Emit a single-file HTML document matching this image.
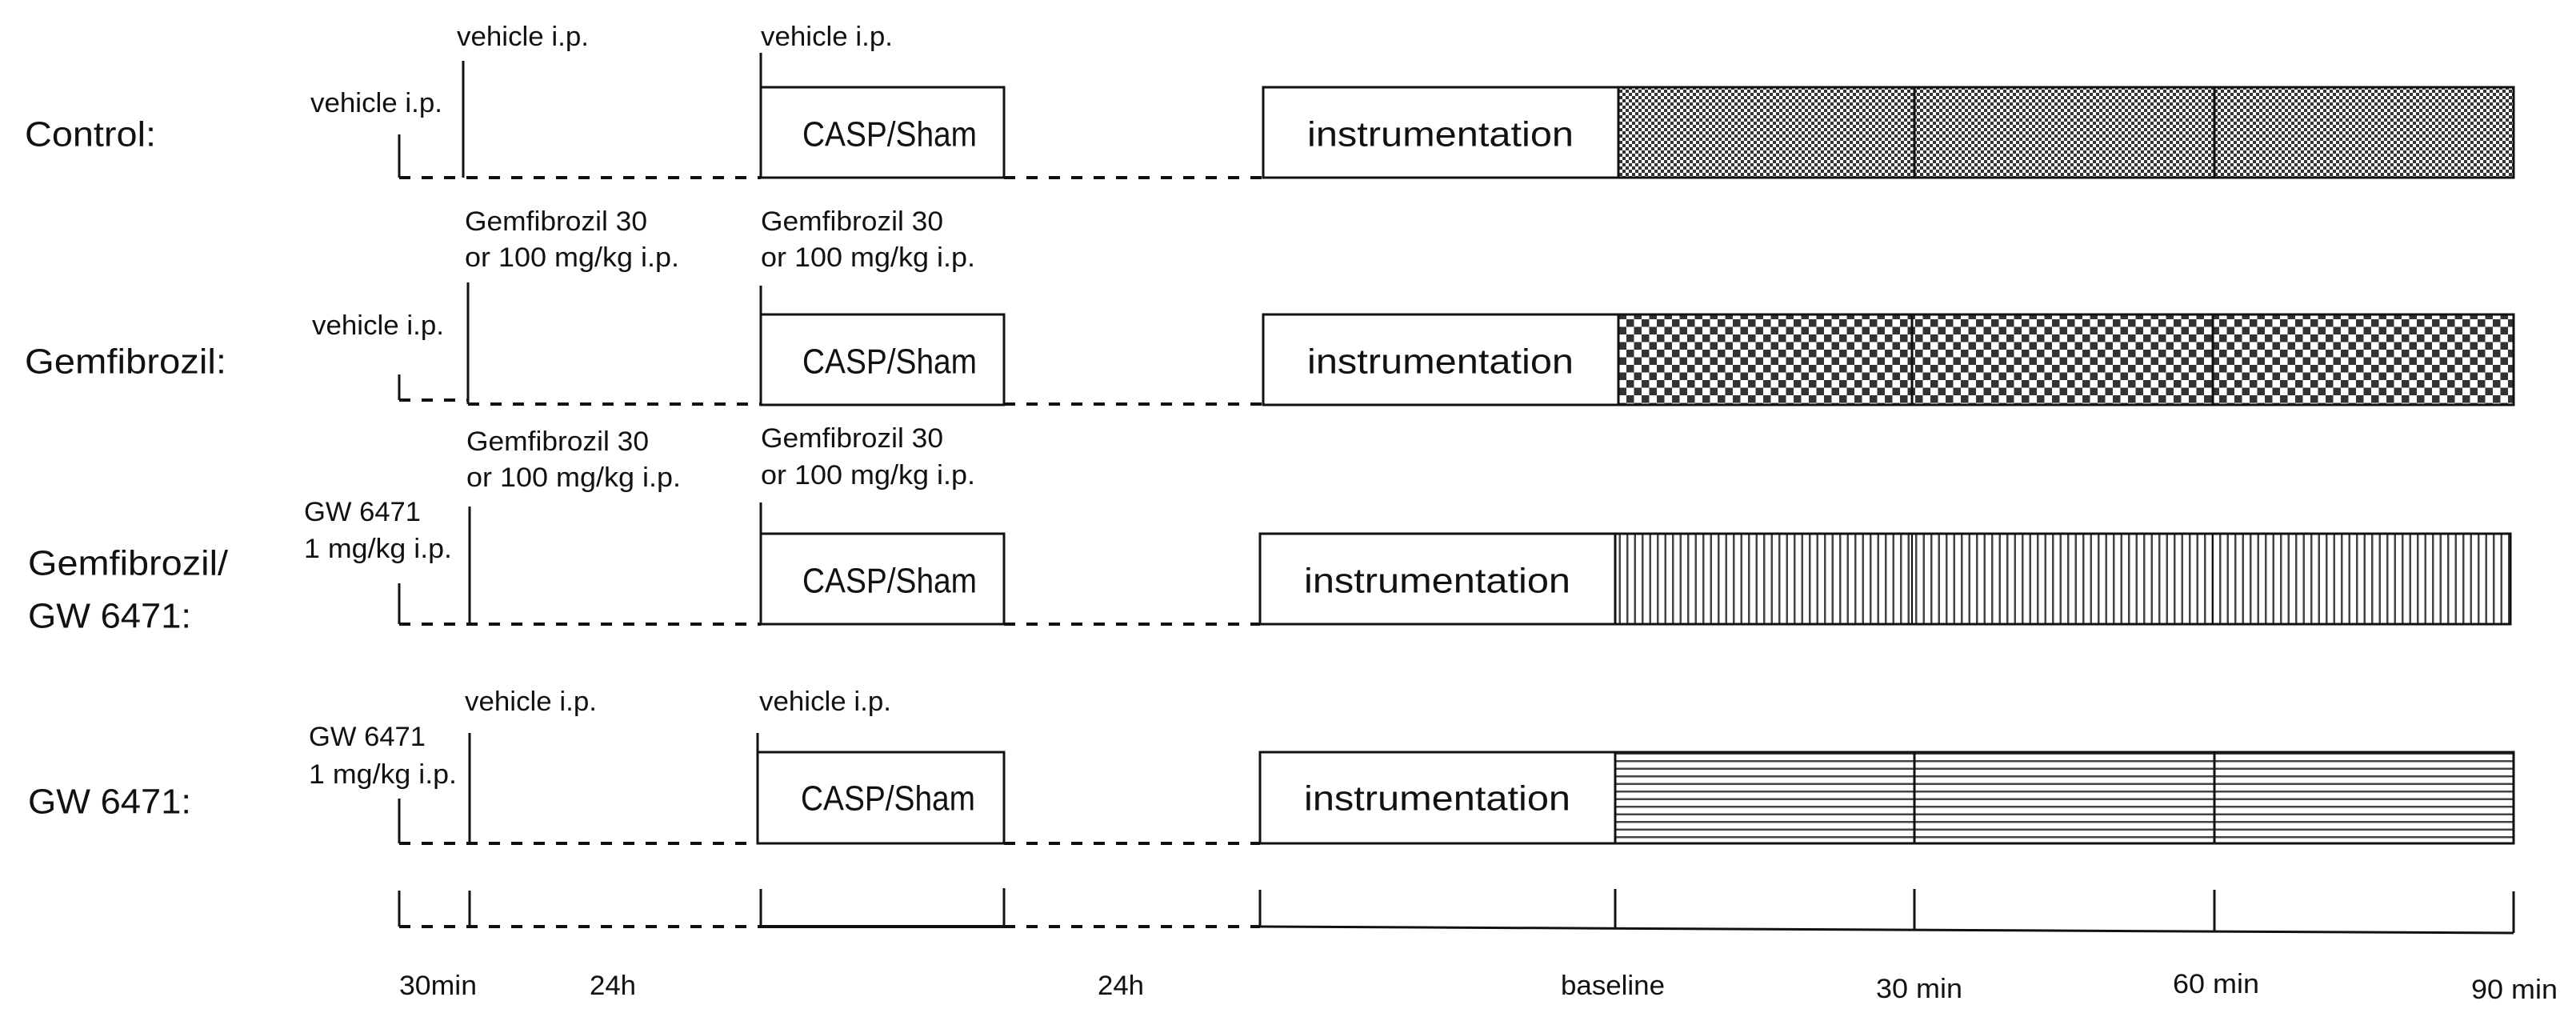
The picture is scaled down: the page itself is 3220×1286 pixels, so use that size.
<!DOCTYPE html>
<html><head><meta charset="utf-8"><style>
html,body{margin:0;padding:0;background:#fff;}
svg{display:block;}
text{font-family:"Liberation Sans",sans-serif;fill:#111;}
</style></head><body>
<svg width="3220" height="1286" viewBox="0 0 3220 1286" xmlns="http://www.w3.org/2000/svg">
<defs>
<pattern id="p1" width="8" height="8" patternUnits="userSpaceOnUse">
<rect width="8" height="8" fill="#fff"/><rect width="4" height="4" fill="#333"/><rect x="4" y="4" width="4" height="4" fill="#333"/>
</pattern>
<pattern id="p2" width="19" height="19" patternUnits="userSpaceOnUse">
<rect width="19" height="19" fill="#fff"/><rect width="9.5" height="9.5" fill="#333"/><rect x="9.5" y="9.5" width="9.5" height="9.5" fill="#333"/>
</pattern>
<pattern id="p3" width="9.5" height="10" patternUnits="userSpaceOnUse">
<rect width="9.5" height="10" fill="#fff"/><rect x="0" width="2.5" height="10" fill="#444"/>
</pattern>
<pattern id="p4" width="10" height="9.5" patternUnits="userSpaceOnUse">
<rect width="10" height="9.5" fill="#fff"/><rect y="0" width="10" height="2.5" fill="#444"/>
</pattern>
</defs>
<g stroke="#111" stroke-width="3" fill="none">
<line x1="499" y1="168" x2="499" y2="222"/>
<line x1="579" y1="76" x2="579" y2="222"/>
<line x1="951" y1="66" x2="951" y2="109"/>
<line x1="499" y1="222" x2="951" y2="222" stroke-dasharray="14 14" stroke-width="4"/>
<line x1="1255" y1="222" x2="1579" y2="222" stroke-dasharray="14 14" stroke-width="4"/>
<rect x="951" y="109" width="304" height="113" fill="#fff"/>
<rect x="2023" y="109" width="1119" height="113" fill="url(#p1)"/>
<rect x="1579" y="109" width="1563" height="113"/>
<line x1="2023" y1="109" x2="2023" y2="222"/>
<line x1="2393" y1="109" x2="2393" y2="222"/>
<line x1="2768" y1="109" x2="2768" y2="222"/>

<line x1="499" y1="468" x2="499" y2="500"/>
<line x1="499" y1="500" x2="585" y2="500" stroke-dasharray="14 14" stroke-width="4"/>
<line x1="585" y1="353" x2="585" y2="505"/>
<line x1="951" y1="357" x2="951" y2="393"/>
<line x1="585" y1="505" x2="951" y2="505" stroke-dasharray="14 14" stroke-width="4"/>
<line x1="1255" y1="505" x2="1579" y2="505" stroke-dasharray="14 14" stroke-width="4"/>
<rect x="951" y="393" width="304" height="113" fill="#fff"/>
<rect x="2023" y="393" width="1119" height="113" fill="url(#p2)"/>
<rect x="1579" y="393" width="1563" height="113"/>
<line x1="2023" y1="393" x2="2023" y2="506"/>
<line x1="2390" y1="393" x2="2390" y2="506"/>
<line x1="2766" y1="393" x2="2766" y2="506"/>

<line x1="499" y1="729" x2="499" y2="780"/>
<line x1="587" y1="633" x2="587" y2="780"/>
<line x1="951" y1="628" x2="951" y2="667"/>
<line x1="499" y1="780" x2="951" y2="780" stroke-dasharray="14 14" stroke-width="4"/>
<line x1="1255" y1="780" x2="1575" y2="780" stroke-dasharray="14 14" stroke-width="4"/>
<rect x="951" y="667" width="304" height="113" fill="#fff"/>
<rect x="2019" y="667" width="1119" height="113" fill="url(#p3)"/>
<rect x="1575" y="667" width="1563" height="113"/>
<line x1="2019" y1="667" x2="2019" y2="780"/>

<line x1="499" y1="998" x2="499" y2="1054"/>
<line x1="587" y1="916" x2="587" y2="1054"/>
<line x1="947" y1="916" x2="947" y2="940"/>
<line x1="499" y1="1054" x2="947" y2="1054" stroke-dasharray="14 14" stroke-width="4"/>
<line x1="1255" y1="1054" x2="1575" y2="1054" stroke-dasharray="14 14" stroke-width="4"/>
<rect x="947" y="940" width="308" height="114" fill="#fff"/>
<rect x="2019" y="940" width="1123" height="114" fill="url(#p4)"/>
<rect x="1575" y="940" width="1567" height="114"/>
<line x1="2019" y1="940" x2="2019" y2="1054"/>
<line x1="2393" y1="940" x2="2393" y2="1054"/>
<line x1="2768" y1="940" x2="2768" y2="1054"/>

<line x1="499" y1="1113" x2="499" y2="1158"/>
<line x1="587" y1="1113" x2="587" y2="1158"/>
<line x1="951" y1="1111" x2="951" y2="1158"/>
<line x1="1255" y1="1110" x2="1255" y2="1158"/>
<line x1="1575" y1="1112" x2="1575" y2="1158"/>
<line x1="2019" y1="1111" x2="2019" y2="1160"/>
<line x1="2393" y1="1111" x2="2393" y2="1162"/>
<line x1="2768" y1="1112" x2="2768" y2="1164"/>
<line x1="3142" y1="1114" x2="3142" y2="1166"/>
<line x1="499" y1="1158" x2="951" y2="1158" stroke-dasharray="14 14" stroke-width="4"/>
<line x1="951" y1="1158" x2="1255" y2="1158" stroke-width="4"/>
<line x1="1255" y1="1158" x2="1575" y2="1158" stroke-dasharray="14 14" stroke-width="4"/>
<line x1="1575" y1="1158" x2="3142" y2="1166" stroke-width="3"/>
</g>
<g stroke="#111" stroke-width="2" fill="none">
<line x1="2390" y1="667" x2="2390" y2="780"/>
<line x1="2766" y1="667" x2="2766" y2="780"/>
</g>
<g font-size="34" dominant-baseline="central">
<text x="31" y="168" font-size="44" textLength="164" lengthAdjust="spacingAndGlyphs">Control:</text>
<text x="31" y="452" font-size="44" textLength="252" lengthAdjust="spacingAndGlyphs">Gemfibrozil:</text>
<text x="35" y="704" font-size="44" textLength="250" lengthAdjust="spacingAndGlyphs">Gemfibrozil/</text>
<text x="35" y="770" font-size="44" textLength="204" lengthAdjust="spacingAndGlyphs">GW 6471:</text>
<text x="35" y="1002" font-size="44" textLength="204" lengthAdjust="spacingAndGlyphs">GW 6471:</text>

<text x="571" y="46" textLength="165" lengthAdjust="spacingAndGlyphs">vehicle i.p.</text>
<text x="951" y="46" textLength="165" lengthAdjust="spacingAndGlyphs">vehicle i.p.</text>
<text x="388" y="129" textLength="165" lengthAdjust="spacingAndGlyphs">vehicle i.p.</text>

<text x="581" y="277" textLength="228" lengthAdjust="spacingAndGlyphs">Gemfibrozil 30</text>
<text x="581" y="322" textLength="268" lengthAdjust="spacingAndGlyphs">or 100 mg/kg i.p.</text>
<text x="951" y="277" textLength="228" lengthAdjust="spacingAndGlyphs">Gemfibrozil 30</text>
<text x="951" y="322" textLength="268" lengthAdjust="spacingAndGlyphs">or 100 mg/kg i.p.</text>
<text x="390" y="407" textLength="165" lengthAdjust="spacingAndGlyphs">vehicle i.p.</text>

<text x="583" y="552" textLength="228" lengthAdjust="spacingAndGlyphs">Gemfibrozil 30</text>
<text x="583" y="597" textLength="268" lengthAdjust="spacingAndGlyphs">or 100 mg/kg i.p.</text>
<text x="951" y="548" textLength="228" lengthAdjust="spacingAndGlyphs">Gemfibrozil 30</text>
<text x="951" y="594" textLength="268" lengthAdjust="spacingAndGlyphs">or 100 mg/kg i.p.</text>
<text x="380" y="640" textLength="146" lengthAdjust="spacingAndGlyphs">GW 6471</text>
<text x="380" y="686" textLength="185" lengthAdjust="spacingAndGlyphs">1 mg/kg i.p.</text>

<text x="581" y="877" textLength="165" lengthAdjust="spacingAndGlyphs">vehicle i.p.</text>
<text x="949" y="877" textLength="165" lengthAdjust="spacingAndGlyphs">vehicle i.p.</text>
<text x="386" y="921" textLength="146" lengthAdjust="spacingAndGlyphs">GW 6471</text>
<text x="386" y="968" textLength="185" lengthAdjust="spacingAndGlyphs">1 mg/kg i.p.</text>

<text x="1003" y="168" font-size="44" textLength="218" lengthAdjust="spacingAndGlyphs">CASP/Sham</text>
<text x="1003" y="452" font-size="44" textLength="218" lengthAdjust="spacingAndGlyphs">CASP/Sham</text>
<text x="1003" y="726" font-size="44" textLength="218" lengthAdjust="spacingAndGlyphs">CASP/Sham</text>
<text x="1001" y="998" font-size="44" textLength="218" lengthAdjust="spacingAndGlyphs">CASP/Sham</text>

<text x="1634" y="168" font-size="44" textLength="333" lengthAdjust="spacingAndGlyphs">instrumentation</text>
<text x="1634" y="452" font-size="44" textLength="333" lengthAdjust="spacingAndGlyphs">instrumentation</text>
<text x="1630" y="726" font-size="44" textLength="333" lengthAdjust="spacingAndGlyphs">instrumentation</text>
<text x="1630" y="998" font-size="44" textLength="333" lengthAdjust="spacingAndGlyphs">instrumentation</text>

<text x="499" y="1232" textLength="97" lengthAdjust="spacingAndGlyphs">30min</text>
<text x="737" y="1232" textLength="58" lengthAdjust="spacingAndGlyphs">24h</text>
<text x="1372" y="1232" textLength="58" lengthAdjust="spacingAndGlyphs">24h</text>
<text x="1951" y="1232" textLength="130" lengthAdjust="spacingAndGlyphs">baseline</text>
<text x="2345" y="1236" textLength="108" lengthAdjust="spacingAndGlyphs">30 min</text>
<text x="2716" y="1230" textLength="108" lengthAdjust="spacingAndGlyphs">60 min</text>
<text x="3089" y="1237" textLength="108" lengthAdjust="spacingAndGlyphs">90 min</text>
</g>
</svg>
</body></html>
